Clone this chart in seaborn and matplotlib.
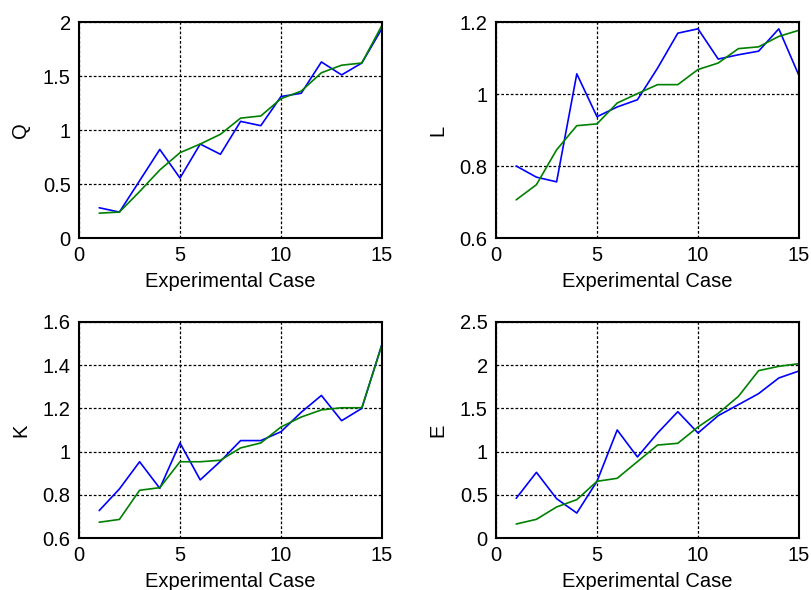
import numpy as np
import pandas as pd
import matplotlib
matplotlib.use("Agg")
import matplotlib.pyplot as plt
import seaborn as sns

cases = list(range(1, 16))

q_blue = [0.28, 0.24, 0.53, 0.82, 0.555, 0.87, 0.775, 1.08, 1.04, 1.31, 1.34, 1.63, 1.51, 1.62, 1.94]
q_green = [0.23, 0.24, 0.43, 0.63, 0.79, 0.87, 0.96, 1.11, 1.13, 1.29, 1.36, 1.53, 1.60, 1.62, 1.97]

l_blue = [0.80, 0.769, 0.756, 1.056, 0.937, 0.964, 0.984, 1.072, 1.169, 1.181, 1.097, 1.109, 1.119, 1.181, 1.051]
l_green = [0.706, 0.748, 0.845, 0.912, 0.917, 0.975, 1.001, 1.026, 1.026, 1.068, 1.086, 1.126, 1.131, 1.160, 1.177]

k_blue = [0.727, 0.827, 0.953, 0.830, 1.040, 0.869, 0.955, 1.051, 1.051, 1.092, 1.182, 1.260, 1.143, 1.200, 1.498]
k_green = [0.673, 0.686, 0.821, 0.833, 0.953, 0.953, 0.960, 1.017, 1.040, 1.114, 1.160, 1.193, 1.203, 1.203, 1.495]

e_blue = [0.459, 0.760, 0.455, 0.289, 0.656, 1.25, 0.938, 1.215, 1.462, 1.215, 1.416, 1.543, 1.671, 1.852, 1.933]
e_green = [0.162, 0.216, 0.359, 0.444, 0.656, 0.691, 0.884, 1.076, 1.096, 1.285, 1.443, 1.639, 1.937, 1.987, 2.018]

panels = [
    ("Q", q_blue, q_green, (0, 2), [0, 0.5, 1, 1.5, 2], ["0", "0.5", "1", "1.5", "2"]),
    ("L", l_blue, l_green, (0.6, 1.2), [0.6, 0.8, 1.0, 1.2], ["0.6", "0.8", "1", "1.2"]),
    ("K", k_blue, k_green, (0.6, 1.6), [0.6, 0.8, 1.0, 1.2, 1.4, 1.6], ["0.6", "0.8", "1", "1.2", "1.4", "1.6"]),
    ("E", e_blue, e_green, (0, 2.5), [0, 0.5, 1, 1.5, 2, 2.5], ["0", "0.5", "1", "1.5", "2", "2.5"]),
]
x_ticks = [0, 5, 10, 15]
x_label = "Experimental Case"

sns.set_style("white")
plt.rcParams["font.family"] = ["Liberation Sans", "DejaVu Sans"]
plt.rcParams["text.color"] = "black"
plt.rcParams["axes.labelcolor"] = "black"

fig = plt.figure(figsize=(8.11, 5.9), dpi=100)
W, H = 811, 590
boxes = [(79, 22), (496, 22), (79, 322), (496, 322)]
aw, ah = 303, 216
fs = 14.5

for (name, blue, green, ylim, yticks, ylabels), (bx, by) in zip(panels, boxes):
    ax = fig.add_axes([bx / W, 1 - (by + ah) / H, aw / W, ah / H])
    df = pd.DataFrame({"case": cases, "blue": blue, "green": green})
    sns.lineplot(data=df, x="case", y="blue", ax=ax, color=(0, 0, 1), lw=1.2)
    sns.lineplot(data=df, x="case", y="green", ax=ax, color=(0, 0.5, 0), lw=1.2)
    ax.set_xlim(0, 15)
    ax.set_ylim(*ylim)
    ax.set_xticks(x_ticks)
    ax.set_xticklabels([str(t) for t in x_ticks])
    ax.set_yticks(yticks)
    ax.set_yticklabels(ylabels)
    ax.grid(True, color="black", linestyle=(0, (2.2, 1.6)), linewidth=0.9)
    ax.set_axisbelow(True)
    for s in ax.spines.values():
        s.set_color("black")
        s.set_linewidth(1.5)
    ax.tick_params(axis="both", direction="in", length=0, labelsize=fs, pad=6,
                   colors="black", labelcolor="black")
    ax.set_xlabel(x_label, fontsize=fs, labelpad=5, color="black")
    ax.set_ylabel(name, fontsize=fs, labelpad=9, color="black")

fig.savefig("out.png", dpi=100, facecolor="white")
